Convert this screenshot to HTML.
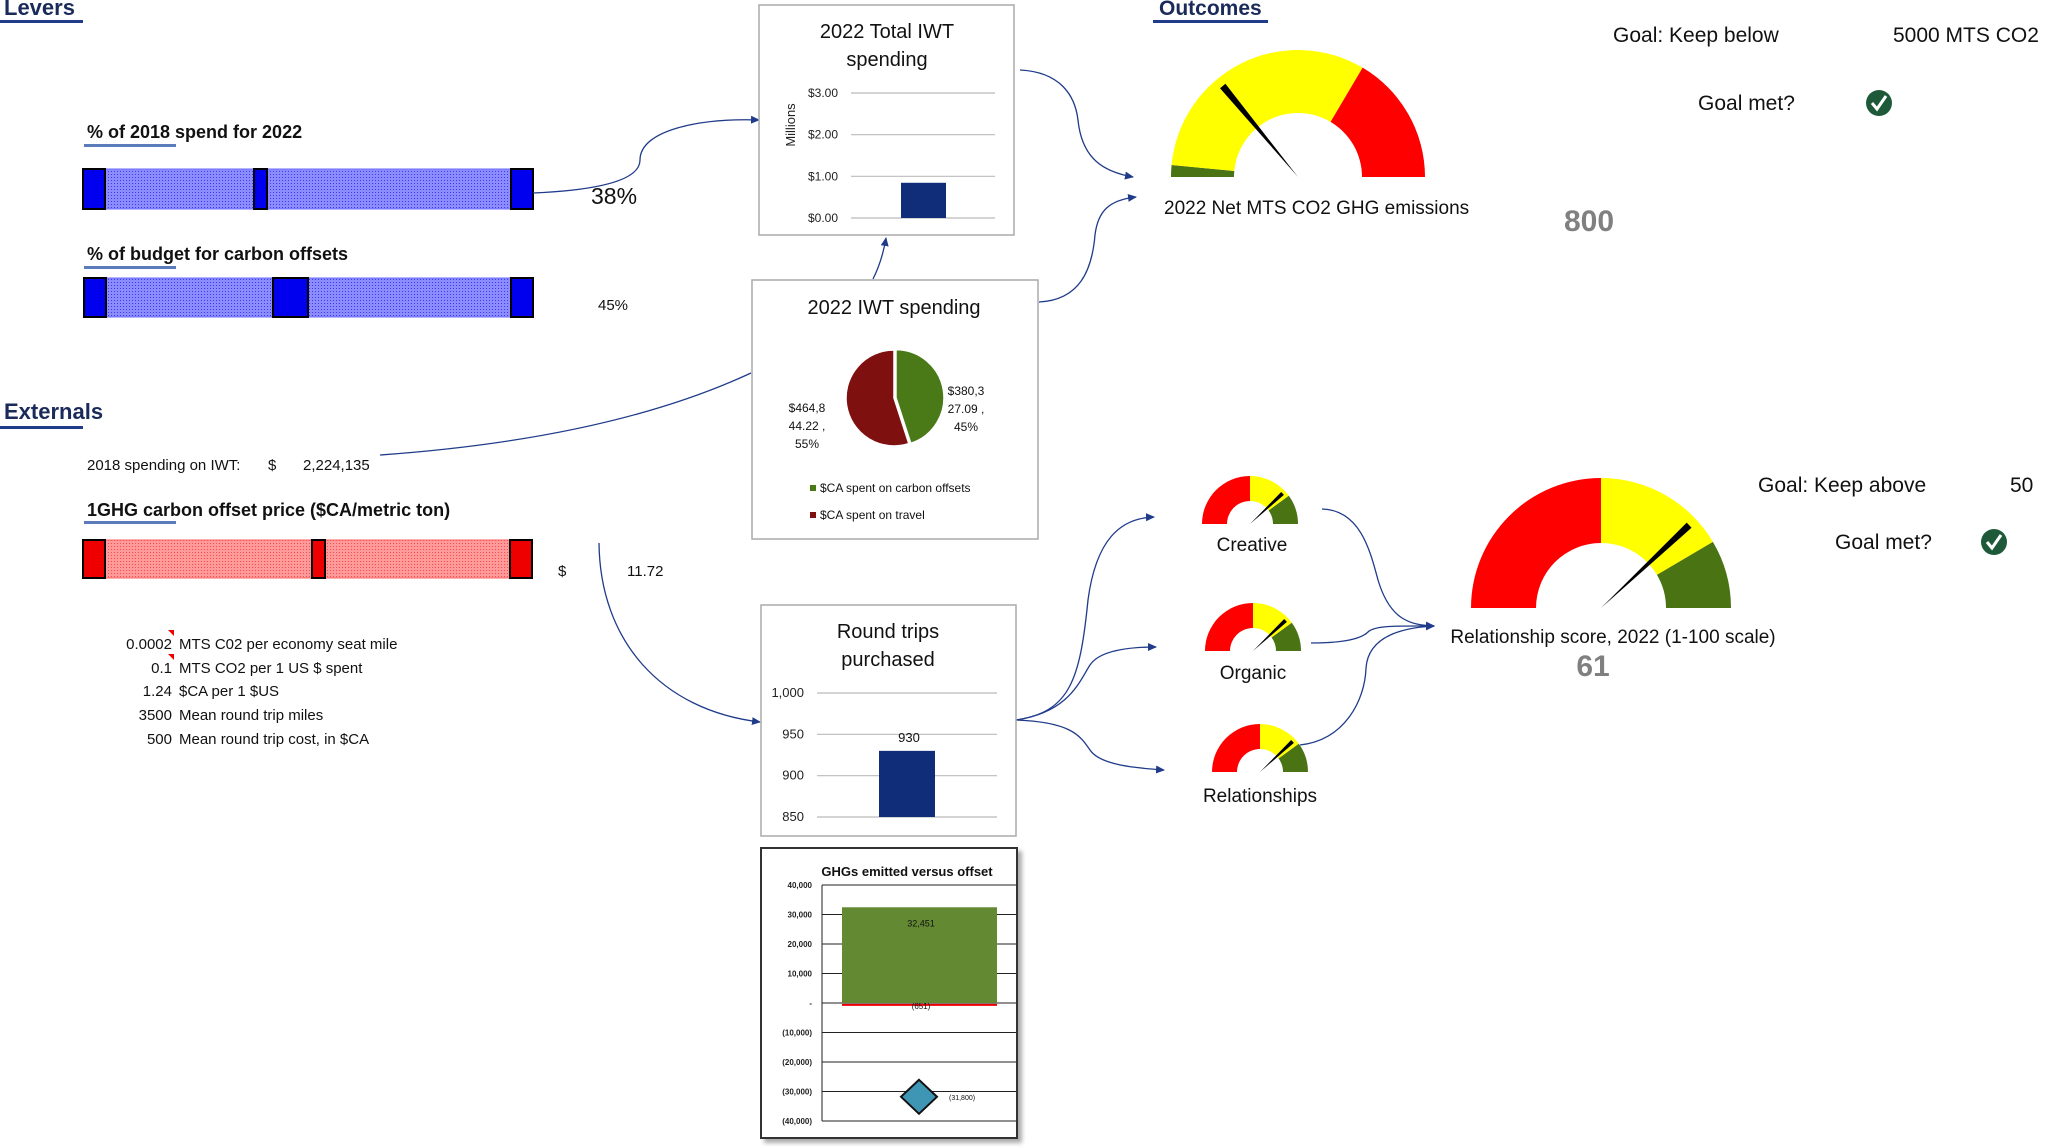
<!DOCTYPE html>
<html><head><meta charset="utf-8"><style>
html,body{margin:0;padding:0;background:#fff;}
svg{display:block;font-family:"Liberation Sans","DejaVu Sans",sans-serif;}
</style></head><body>
<svg id="root" width="2049" height="1148" viewBox="0 0 2049 1148" xmlns="http://www.w3.org/2000/svg">
<defs>
<pattern id="bluePat" width="3" height="3" patternUnits="userSpaceOnUse"><rect width="3" height="3" fill="#8c8cff"/><rect width="1" height="1" fill="#3a3aff"/></pattern>
<pattern id="redPat" width="3" height="3" patternUnits="userSpaceOnUse"><rect width="3" height="3" fill="#ff9a9a"/><rect width="1" height="1" fill="#ff4a4a"/></pattern>
<marker id="arr" markerWidth="10" markerHeight="10" refX="8" refY="5" orient="auto" markerUnits="userSpaceOnUse"><path d="M0,1 L9,5 L0,9 Z" fill="#1f3b8a"/></marker>
<filter id="shadow" x="-5%" y="-5%" width="115%" height="115%"><feDropShadow dx="4" dy="4" stdDeviation="2" flood-color="#888" flood-opacity="0.7"/></filter>
</defs>

<!-- Levers -->
<g>
<text x="4" y="15" font-size="22" font-weight="bold" fill="#1a2a5a">Levers</text>
<rect x="0" y="20" width="83" height="3" fill="#1f3b8a"/>
<text x="87" y="138" font-size="18" font-weight="bold" fill="#111">% of 2018 spend for 2022</text>
<rect x="84" y="144" width="92" height="3" fill="#5b7bbb"/>
<g>
<rect x="83" y="169" width="450" height="40" fill="url(#bluePat)" stroke="#6a6aff"/>
<rect x="83" y="169" width="22" height="40" fill="#0000ee" stroke="#000" stroke-width="2"/>
<rect x="511" y="169" width="22" height="40" fill="#0000ee" stroke="#000" stroke-width="2"/>
<rect x="254" y="169" width="13" height="40" fill="#0000ee" stroke="#000" stroke-width="2"/>
</g>
<text x="591" y="204" font-size="23" fill="#111">38%</text>
<text x="87" y="260" font-size="18" font-weight="bold" fill="#111">% of budget for carbon offsets</text>
<rect x="84" y="266" width="92" height="3" fill="#5b7bbb"/>
<g>
<rect x="84" y="278" width="449" height="39" fill="url(#bluePat)" stroke="#6a6aff"/>
<rect x="84" y="278" width="22" height="39" fill="#0000ee" stroke="#000" stroke-width="2"/>
<rect x="511" y="278" width="22" height="39" fill="#0000ee" stroke="#000" stroke-width="2"/>
<rect x="273" y="278" width="35" height="39" fill="#0000ee" stroke="#000" stroke-width="2"/>
</g>
<text x="598" y="310" font-size="15" fill="#111">45%</text>
</g>

<!-- Externals -->
<g>
<text x="4" y="419" font-size="22" font-weight="bold" fill="#1a2a5a">Externals</text>
<rect x="0" y="426" width="83" height="3" fill="#1f3b8a"/>
<text x="87" y="470" font-size="15" fill="#111">2018 spending on IWT:</text>
<text x="268" y="470" font-size="15" fill="#111">$</text>
<text x="303" y="470" font-size="15" fill="#111">2,224,135</text>
<text x="87" y="516" font-size="18" font-weight="bold" fill="#111">1GHG carbon offset price ($CA/metric ton)</text>
<rect x="84" y="521" width="92" height="3" fill="#5b7bbb"/>
<g>
<rect x="83" y="540" width="449" height="38" fill="url(#redPat)" stroke="#ff6060"/>
<rect x="83" y="540" width="22" height="38" fill="#ee0000" stroke="#000" stroke-width="2"/>
<rect x="510" y="540" width="22" height="38" fill="#ee0000" stroke="#000" stroke-width="2"/>
<rect x="312" y="540" width="13" height="38" fill="#ee0000" stroke="#000" stroke-width="2"/>
</g>
<text x="558" y="576" font-size="15" fill="#111">$</text>
<text x="627" y="576" font-size="15" fill="#111">11.72</text>
<g font-size="15" fill="#111">
<text x="172" y="649" text-anchor="end">0.0002</text><text x="179" y="649">MTS C02 per economy seat mile</text>
<path d="M168,630 L174,630 L174,636 Z" fill="#e00"/>
<text x="172" y="673" text-anchor="end">0.1</text><text x="179" y="673">MTS CO2 per 1 US $ spent</text>
<path d="M168,654 L174,654 L174,660 Z" fill="#e00"/>
<text x="172" y="696" text-anchor="end">1.24</text><text x="179" y="696">$CA per 1 $US</text>
<text x="172" y="720" text-anchor="end">3500</text><text x="179" y="720">Mean round trip miles</text>
<text x="172" y="744" text-anchor="end">500</text><text x="179" y="744">Mean round trip cost, in $CA</text>
</g>
</g>

<!-- connectors -->
<g fill="none" stroke="#1f3b8a" stroke-width="1.3">
<path d="M533,193 C600,190 640,180 640,160 C640,130 700,118 759,120" marker-end="url(#arr)"/>
<path d="M873,279 C880,265 884,250 886,238" marker-end="url(#arr)"/>
<path d="M1020,70 C1060,72 1075,95 1078,120 C1082,160 1105,172 1133,177" marker-end="url(#arr)"/>
<path d="M1039,302 C1080,300 1092,270 1095,235 C1098,210 1110,200 1136,197" marker-end="url(#arr)"/>
<path d="M751,373 C650,420 520,445 380,455"/>
<path d="M599,543 C600,640 660,710 760,722" marker-end="url(#arr)"/>
<path d="M1016,720 C1070,712 1080,680 1088,600 C1096,540 1120,518 1154,517" marker-end="url(#arr)"/>
<path d="M1016,720 C1070,712 1080,680 1090,665 C1100,650 1130,647 1156,647" marker-end="url(#arr)"/>
<path d="M1016,720 C1070,722 1080,735 1090,750 C1100,765 1135,768 1164,770" marker-end="url(#arr)"/>
<path d="M1322,509 C1360,510 1370,550 1378,580 C1390,620 1410,625 1434,626" marker-end="url(#arr)"/>
<path d="M1311,643 C1340,643 1360,640 1368,632 C1375,625 1400,626 1434,626" marker-end="url(#arr)"/>
<path d="M1300,745 C1345,740 1365,700 1366,668 C1368,640 1395,628 1434,626" marker-end="url(#arr)"/>
</g>

<!-- chart 1 box -->
<g id="c1">
<rect x="759" y="5" width="255" height="230" fill="#fff" stroke="#aaa" stroke-width="1.5"/>
<text x="887" y="38" font-size="20" text-anchor="middle" fill="#111">2022 Total IWT</text>
<text x="887" y="66" font-size="20" text-anchor="middle" fill="#111">spending</text>
<text transform="translate(795,125) rotate(-90)" font-size="13" text-anchor="middle" fill="#222">Millions</text>
</g>
<!-- pie box -->
<g id="c2">
<rect x="752" y="280" width="286" height="259" fill="#fff" stroke="#aaa" stroke-width="1.5"/>
<text x="894" y="314" font-size="20" text-anchor="middle" fill="#111">2022 IWT spending</text>
</g>
<!-- round trips -->
<g id="c3">
<rect x="761" y="605" width="255" height="231" fill="#fff" stroke="#aaa" stroke-width="1.5"/>
<text x="888" y="638" font-size="20" text-anchor="middle" fill="#111">Round trips</text>
<text x="888" y="666" font-size="20" text-anchor="middle" fill="#111">purchased</text>
</g>
<!-- ghg -->
<g id="c4">
<rect x="761" y="848" width="256" height="290" fill="#fff" stroke="#333" stroke-width="2" filter="url(#shadow)"/>
<text x="907" y="876" font-size="13" font-weight="bold" text-anchor="middle" fill="#111">GHGs emitted versus offset</text>
</g>

<!-- outcomes -->
<g>
<text x="1159" y="15" font-size="21" font-weight="bold" fill="#1a2a5a">Outcomes</text>
<rect x="1153" y="20" width="115" height="3" fill="#1f3b8a"/>
<g id="gauges"></g>
<text x="1164" y="214" font-size="19" fill="#111">2022 Net MTS CO2 GHG emissions</text>
<text x="1564" y="231" font-size="30" font-weight="bold" fill="#808080">800</text>
<text x="1613" y="42" font-size="21" fill="#111">Goal: Keep below</text>
<text x="1893" y="42" font-size="21" fill="#111">5000 MTS CO2</text>
<text x="1698" y="110" font-size="21" fill="#111">Goal met?</text>
<g><circle cx="1879" cy="103" r="13" fill="#1e5a3a"/><path d="M1872,103 L1877,109 L1886,96" stroke="#fff" stroke-width="3" fill="none"/></g>
<text x="1252" y="551" font-size="19" text-anchor="middle" fill="#111">Creative</text>
<text x="1253" y="679" font-size="19" text-anchor="middle" fill="#111">Organic</text>
<text x="1260" y="802" font-size="19" text-anchor="middle" fill="#111">Relationships</text>
<text x="1613" y="643" font-size="19" text-anchor="middle" fill="#111">Relationship score, 2022 (1-100 scale)</text>
<text x="1593" y="676" font-size="30" font-weight="bold" text-anchor="middle" fill="#808080">61</text>
<text x="1758" y="492" font-size="21" fill="#111">Goal: Keep above</text>
<text x="2010" y="492" font-size="21" fill="#111">50</text>
<text x="1835" y="549" font-size="21" fill="#111">Goal met?</text>
<g><circle cx="1994" cy="542" r="13" fill="#1e5a3a"/><path d="M1987,542 L1992,548 L2001,535" stroke="#fff" stroke-width="3" fill="none"/></g>
</g>
</svg>
<script>
// ---- data ----
const totalSpendingTicks = [0, 1, 2, 3];
const totalSpendingTickLabels = ["$0.00", "$1.00", "$2.00", "$3.00"];
const totalSpendingValues = [0.845];
const pieCategories = ["$CA spent on carbon offsets", "$CA spent on travel"];
const pieValues = [380327.09, 464844.22];
const pieLabelsLines = [["$380,3", "27.09 ,", "45%"], ["$464,8", "44.22 ,", "55%"]];
const tripTicks = [850, 900, 950, 1000];
const tripTickLabels = ["850", "900", "950", "1,000"];
const tripValues = [930];
const ghgTicks = [40000, 30000, 20000, 10000, 0, -10000, -20000, -30000, -40000];
const ghgTickLabels = ["40,000", "30,000", "20,000", "10,000", "-", "(10,000)", "(20,000)", "(30,000)", "(40,000)"];
const ghgEmitted = [32451];
const ghgLine = [-651];
const ghgNet = [-31800];
const gaugeNames = ["emissions-gauge", "creative-gauge", "organic-gauge", "relationships-gauge", "relationship-score-gauge"];
const gaugeNeedle = [28, 76, 76, 76, 76];
const gaugeBands = [[[0,3,"#4a7314"],[3,67,"#ffff00"],[67,100,"#ff0000"]],
 [[0,50,"#ff0000"],[50,80,"#ffff00"],[80,100,"#4a7314"]],
 [[0,50,"#ff0000"],[50,80,"#ffff00"],[80,100,"#4a7314"]],
 [[0,50,"#ff0000"],[50,80,"#ffff00"],[80,100,"#4a7314"]],
 [[0,50,"#ff0000"],[50,83,"#ffff00"],[83,100,"#4a7314"]]];

const NS = "http://www.w3.org/2000/svg";
function mk(tag, attrs, parent){const e=document.createElementNS(NS,tag);for(const k in attrs)e.setAttribute(k,attrs[k]);parent.appendChild(e);return e;}

// chart 1
const c1 = document.getElementById('c1');
const y1 = v => 218 - v * (218 - 93) / 3;
totalSpendingTicks.forEach((t,i)=>{
 const l = mk('line',{x1:851,x2:995,y1:y1(t),y2:y1(t),stroke:'#bbb','stroke-width':1.2},c1);
 
 
 const tx = mk('text',{x:838,y:y1(t)+4,'font-size':12,'text-anchor':'end',fill:'#222'},c1);
 tx.textContent = totalSpendingTickLabels[i];
 
 
});
totalSpendingValues.forEach(v=>{
 const b = mk('rect',{x:901,width:45,y:y1(v),height:y1(0)-y1(v),fill:'#0f2d78'},c1);
 
 
});

// pie
const c2 = document.getElementById('c2');
const pcx=894, pcy=398, pr=48, pieColors=['#4a7a18','#7f1010'];
const pieTotal = pieValues.reduce((a,b)=>a+b,0);
let acc=0;
pieValues.forEach((v,i)=>{
 const a0 = acc/pieTotal*2*Math.PI, a1=(acc+v)/pieTotal*2*Math.PI; acc+=v;
 const mid=(a0+a1)/2, off=i===0?2:0;
 const cx=pcx+off*Math.sin(mid), cy=pcy-off*Math.cos(mid);
 const p=(a)=>[cx+pr*Math.sin(a), cy-pr*Math.cos(a)];
 const [sx,sy]=p(a0),[ex,ey]=p(a1);
 const s = mk('path',{d:`M${cx},${cy} L${sx},${sy} A${pr},${pr} 0 ${a1-a0>Math.PI?1:0} 1 ${ex},${ey} Z`,fill:pieColors[i],stroke:'#fff','stroke-width':1.5},c2);
 
 
 const lx = i===0?966:807, ly = i===0?395:412;
 pieLabelsLines[i].forEach((ln,j)=>{
  const t=mk('text',{x:lx,y:ly+j*18,'font-size':12,'text-anchor':'middle',fill:'#111'},c2);
  t.textContent=ln;
  
  
 });
 const sq=mk('rect',{x:810,y:485+i*27,width:6,height:6,fill:pieColors[i]},c2);
 
 
 const lt=mk('text',{x:820,y:492+i*27,'font-size':12,fill:'#111'},c2);
 lt.textContent=pieCategories[i];
 
 
});

// round trips
const c3=document.getElementById('c3');
const y3 = v => 817 - (v-850)*(817-693)/150;
tripTicks.forEach((t,i)=>{
 const l=mk('line',{x1:817,x2:997,y1:y3(t),y2:y3(t),stroke:'#bbb','stroke-width':1.2},c3);
 
 
 const tx=mk('text',{x:804,y:y3(t)+4,'font-size':13,'text-anchor':'end',fill:'#222'},c3);
 tx.textContent=tripTickLabels[i];
 
 
});
tripValues.forEach(v=>{
 const b=mk('rect',{x:879,width:56,y:y3(v),height:y3(850)-y3(v),fill:'#0f2d78'},c3);
 
 
 const t=mk('text',{x:909,y:y3(v)-9,'font-size':13,'text-anchor':'middle',fill:'#111'},c3);
 t.textContent=String(v);
 
 
});

// ghg
const c4=document.getElementById('c4');
const y4 = v => 1003 - v*(1003-885)/40000;
ghgTicks.forEach((t,i)=>{
 const l=mk('line',{x1:822,x2:1016,y1:y4(t),y2:y4(t),stroke:'#222','stroke-width':1},c4);
 
 
 const tx=mk('text',{x:812,y:y4(t)+3,'font-size':8,'font-weight':'bold','text-anchor':'end',fill:'#222'},c4);
 tx.textContent=ghgTickLabels[i];
 
 
});
const ax=mk('line',{x1:822,x2:822,y1:y4(40000),y2:y4(-40000),stroke:'#222','stroke-width':1},c4);


ghgEmitted.forEach(v=>{
 const b=mk('rect',{x:842,width:155,y:y4(v),height:y4(0)-y4(v),fill:'#638a33'},c4);
 
 
 const t=mk('text',{x:921,y:y4(v)+19,'font-size':9,'text-anchor':'middle',fill:'#111'},c4);
 t.textContent=v.toLocaleString('en-US');
 
 
});
ghgLine.forEach(v=>{
 const l=mk('line',{x1:842,x2:997,y1:y4(v),y2:y4(v),stroke:'#e00','stroke-width':2},c4);
 
 
 const t=mk('text',{x:921,y:y4(v)+4,'font-size':8,'text-anchor':'middle',fill:'#111'},c4);
 t.textContent='('+Math.abs(v)+')';
 
 
});
ghgNet.forEach(v=>{
 const cy=y4(v), cx=919;
 const d=mk('path',{d:`M${cx},${cy-17} L${cx+18},${cy} L${cx},${cy+17} L${cx-18},${cy} Z`,fill:'#3f96b4',stroke:'#111','stroke-width':2},c4);
 
 
 const t=mk('text',{x:949,y:cy+3,'font-size':7,fill:'#111'},c4);
 t.textContent='('+Math.abs(v).toLocaleString('en-US')+')';
 
 
});

// gauges
const gG=document.getElementById('gauges');
const gaugeGeom=[[1298,177,127,64],[1250,524,48,23],[1253,651,48,23],[1260,772,48,23],[1601,608,130,65]];
const ang = v => v/100*Math.PI;
const pt=(cx,cy,r,a)=>[cx - r*Math.cos(a), cy - r*Math.sin(a)];
gaugeNames.forEach((nm,gi)=>{
 const [cx,cy,ro,ri]=gaugeGeom[gi];
 const g=mk('g',{},gG);
 
 
 gaugeBands[gi].forEach(([a,b,col])=>{
  const a0=ang(a),a1=ang(b);
  const [x0,y0]=pt(cx,cy,ro,a0),[x1,y1]=pt(cx,cy,ro,a1),[x2,y2]=pt(cx,cy,ri,a1),[x3,y3]=pt(cx,cy,ri,a0);
  const s=mk('path',{d:`M${x0},${y0} A${ro},${ro} 0 0 1 ${x1},${y1} L${x2},${y2} A${ri},${ri} 0 0 0 ${x3},${y3} Z`,fill:col},g);
  
  
 });
 const a=ang(gaugeNeedle[gi]);
 const w=ro>100?3.5:2;
 const [tx,ty]=pt(cx,cy,ro*0.93,a);
 const nx=Math.sin(a)*w, ny=-Math.cos(a)*w;
 const n=mk('path',{d:`M${cx},${cy} L${tx+nx},${ty+ny} L${tx-nx},${ty-ny} Z`,fill:'#000'},g);
 
 
});
</script>
</body></html>
